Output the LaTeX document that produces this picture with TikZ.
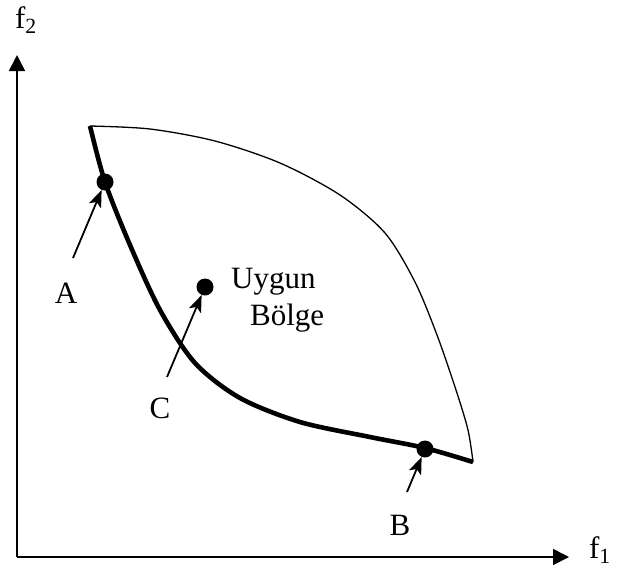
\documentclass[tikz,border=0pt]{standalone}
\usepackage{fontspec}
\setmainfont{Liberation Serif}
\usetikzlibrary{arrows.meta}

\tikzset{
  lbl/.style={font=\fontsize{31}{36}\selectfont, inner sep=0pt},
  dot/.style={circle, fill=black, inner sep=0pt, minimum size=17pt},
  pointer/.style={line width=1.8pt, -{Stealth[length=17pt, width=13pt, inset=4pt]}},
}

\begin{document}
\begin{tikzpicture}[x=1pt, y=-1pt]
  \useasboundingbox (0,0) rectangle (620,574);

  % Axes
  \coordinate (O) at (17,557);
  \coordinate (xend) at (569,557);
  \coordinate (yend) at (17,55);
  \draw[line width=1.6pt, -{Triangle[length=16pt, width=16pt]}] (O) -- (xend);
  \draw[line width=1.6pt, -{Triangle[length=16pt, width=16pt]}] (O) -- (yend);
  \node[lbl] (f1) at (600,550) {f\textsubscript{1}};
  \node[lbl] (f2) at (26,20) {f\textsubscript{2}};

  % Region boundary
  \draw[line width=1.3pt] plot[smooth] coordinates {(90,126) (150,129) (215,141) (280,163) (340,195) (385,233) (415,282) (437,335) (456,390) (468,430) (473,462)};
  \draw[line width=4.6pt, line join=round] plot[smooth] coordinates {(90,126) (105,182) (130,245) (160,310) (195,363) (240,398) (300,422) (370,437) (425,448) (473,462)};

  % Points
  \node[dot] (A) at (105,182) {};
  \node[dot] (C) at (205,287) {};
  \node[dot] (B) at (425,449) {};

  % Labels
  \node[lbl] (labA) at (66,293) {A};
  \node[lbl] (labC) at (160,408) {C};
  \node[lbl] (labB) at (400,525) {B};
  \node[lbl, anchor=base west] (uygun) at (231,288) {Uygun};
  \node[lbl, anchor=base west] (bolge) at (250,325) {Bölge};

  % Pointers
  \coordinate (tA) at (73,258);
  \coordinate (tC) at (167,377);
  \coordinate (tB) at (407,492);
  \draw[pointer] (tA) -- (A);
  \draw[pointer] (tC) -- (C);
  \draw[pointer] (tB) -- (B);
\end{tikzpicture}
\end{document}
